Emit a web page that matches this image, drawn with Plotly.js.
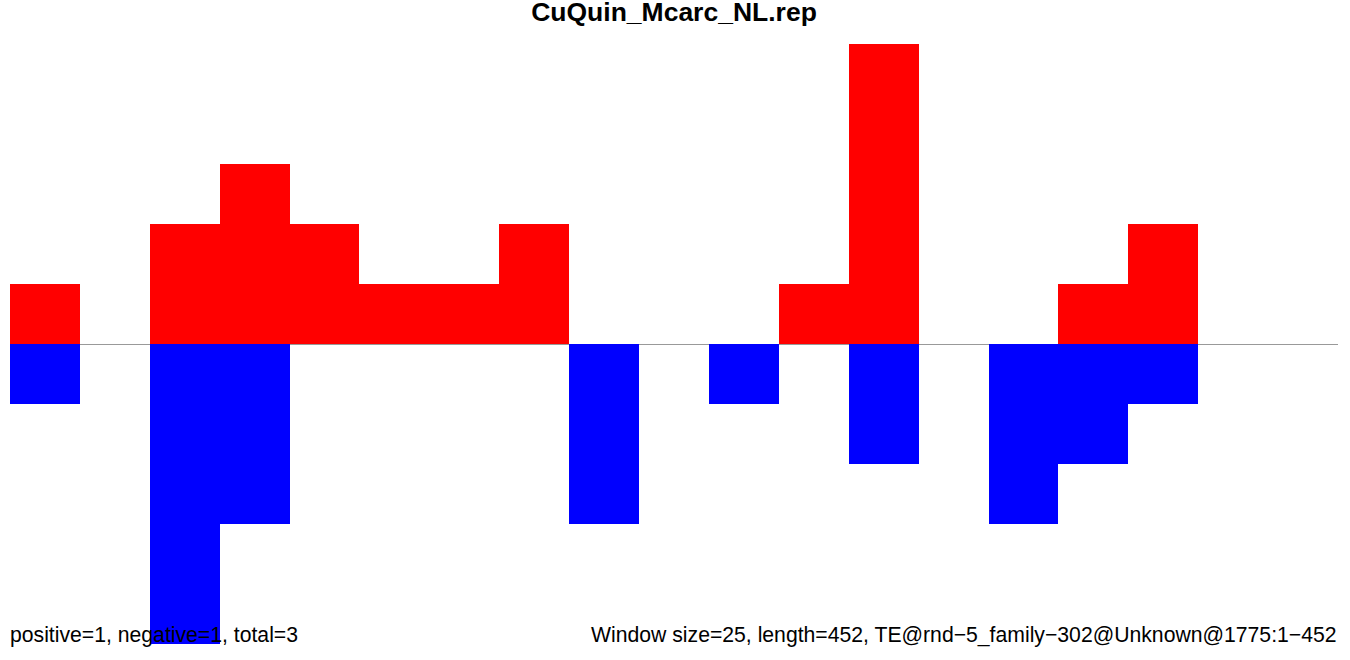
<!DOCTYPE html>
<html>
<head>
<meta charset="utf-8">
<script src="https://cdn.plot.ly/plotly-3.0.1.min.js"></script>
<style>html,body{margin:0;padding:0;background:#fff;}#chart{width:1350px;height:660px;}</style>
</head>
<body>
<div id="chart"></div>
<script>
// Window index (window size 25, sequence length 452)
const windows = [0,1,2,3,4,5,6,7,8,9,10,11,12,13,14,15,16,17,18];
// Positive strand counts per window
const positiveCounts = [1,0,2,3,2,1,1,2,0,0,0,1,5,0,0,1,2,0,0];
// Negative strand counts per window (drawn downward)
const negativeCounts = [-1,0,-5,-3,0,0,0,0,-3,0,-1,0,-2,0,-3,-2,-1,0,0];

const titleText = "CuQuin_Mcarc_NL.rep";
const leftNote = "positive=1, negative=1, total=3";
const rightNote = "Window size=25, length=452, TE@rnd\u22125_family\u2212302@Unknown@1775:1\u2212452";

const xCenters = windows.map(w => w + 0.5);

const traces = [
  {type:'bar', x:xCenters, y:positiveCounts, width:1, marker:{color:'#ff0000', line:{width:0}}, hoverinfo:'skip', showlegend:false},
  {type:'bar', x:xCenters, y:negativeCounts, width:1, marker:{color:'#0000ff', line:{width:0}}, hoverinfo:'skip', showlegend:false}
];

const layout = {
  width:1350, height:660,
  margin:{l:10, r:12, t:44, b:16, pad:0},
  paper_bgcolor:'#ffffff', plot_bgcolor:'#ffffff',
  barmode:'overlay', bargap:0,
  font:{family:'Liberation Sans, Arial, sans-serif', color:'#000000'},
  title:{text:'<b>'+titleText+'</b>', font:{size:26.5, family:'Liberation Sans, Arial, sans-serif', color:'#000'}, x:0.5, xref:'paper', xanchor:'center', y:1-12/660, yref:'container', yanchor:'middle'},
  xaxis:{range:[0,19], visible:false, showgrid:false, zeroline:false, fixedrange:true},
  yaxis:{range:[-5,5], visible:true, showticklabels:false, ticks:'', showline:false, showgrid:false, zeroline:true, zerolinecolor:'#999999', zerolinewidth:1, fixedrange:true},
  annotations:[
    {text:leftNote, xref:'paper', x:0, xanchor:'left', xshift:-2, yref:'paper', y:0, yanchor:'bottom', yshift:-5, showarrow:false, font:{size:21.2, color:'#000'}},
    {text:rightNote, xref:'paper', x:1, xanchor:'right', xshift:1, yref:'paper', y:0, yanchor:'bottom', yshift:-5, showarrow:false, font:{size:21.2, color:'#000'}}
  ]
};

Plotly.newPlot('chart', traces, layout, {staticPlot:true, displayModeBar:false});
</script>
</body>
</html>
